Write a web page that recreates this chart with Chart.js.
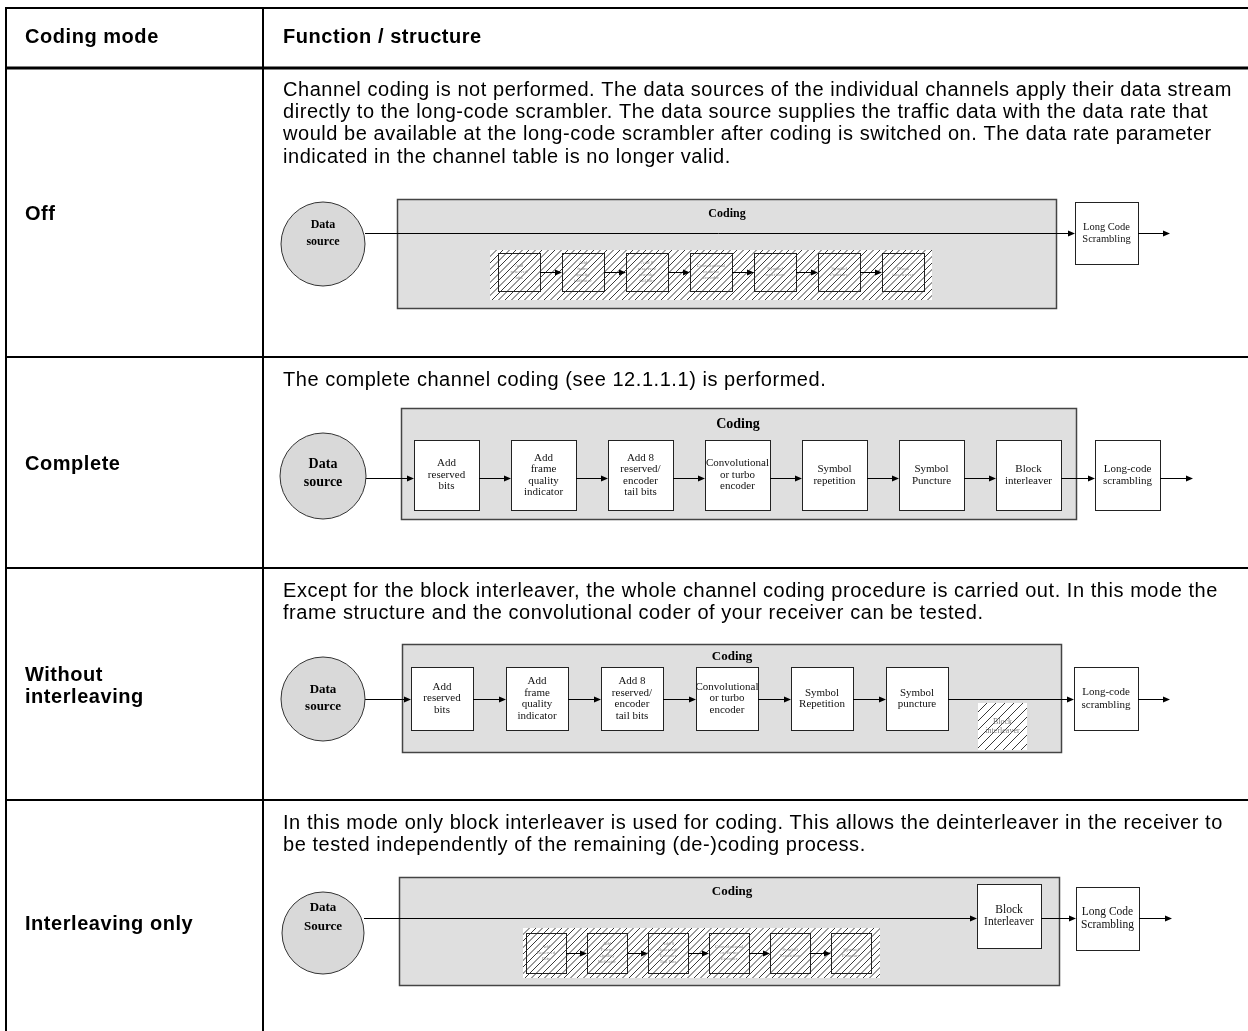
<!DOCTYPE html>
<html>
<head>
<meta charset="utf-8">
<title>Coding modes</title>
<script src="https://cdn.jsdelivr.net/npm/chart.js@4.4.1/dist/chart.umd.min.js"></script>
<style>
    html, body { margin: 0; padding: 0; background: #fff; }
    #wrap { width: 1248px; height: 1031px; }
</style>
</head>
<body>
<div id="wrap"><canvas id="myChart" width="1248" height="1031"></canvas></div>
<script>
// table content
const headers = ['Coding mode', 'Function / structure'];
const modes = [['Off'], ['Complete'], ['Without', 'interleaving'], ['Interleaving only']];
const descriptions = [
    ['Channel coding is not performed. The data sources of the individual channels apply their data stream',
     'directly to the long-code scrambler. The data source supplies the traffic data with the data rate that',
     'would be available at the long-code scrambler after coding is switched on. The data rate parameter',
     'indicated in the channel table is no longer valid.'],
    ['The complete channel coding (see 12.1.1.1) is performed.'],
    ['Except for the block interleaver, the whole channel coding procedure is carried out. In this mode the',
     'frame structure and the convolutional coder of your receiver can be tested.'],
    ['In this mode only block interleaver is used for coding. This allows the deinterleaver in the receiver to',
     'be tested independently of the remaining (de-)coding process.']
];

// diagram content
const sourceLabels = [['Data', 'source'], ['Data', 'source'], ['Data', 'source'], ['Data', 'Source']];
const codingTitle = 'Coding';
const chainA = [['Add', 'reserved', 'bits'], ['Add', 'frame', 'quality', 'indicator'], ['Add 8', 'reserved/', 'encoder', 'tail bits'],
    ['Convolutional', 'or turbo', 'encoder'], ['Symbol', 'repetition'], ['Symbol', 'Puncture'], ['Block', 'interleaver']];
const chainB = [['Add', 'reserved', 'bits'], ['Add', 'frame', 'quality', 'indicator'], ['Add 8', 'reserved/', 'encoder', 'tail bits'],
    ['Convolutional', 'or turbo', 'encoder'], ['Symbol', 'Repetition'], ['Symbol', 'puncture'], ['Block', 'interleaver']];
const chainC = [['Add', 'Reserved', 'Bits'], ['Add', 'Frame', 'Quality', 'Indicator'], ['Add 8', 'Reserved/', 'Encoder', 'Tail Bits'],
    ['Convolutional', 'or Turbo', 'Encoder'], ['Symbol', 'Repetition'], ['Symbol', 'Puncture'], ['Block', 'Interleaver']];
const chainLabels = [chainA, chainA, chainB, chainC];
const activeFlags = [
    [false, false, false, false, false, false, false],
    [true, true, true, true, true, true, true],
    [true, true, true, true, true, true, false],
    [false, false, false, false, false, false, true]
];
const scramblerLabels = [['Long Code', 'Scrambling'], ['Long-code', 'scrambling'], ['Long-code', 'scrambling'], ['Long Code', 'Scrambling']];

// layout (page coordinates)
const W = 1248, H = 1031;
const tableLines = [[8, 2], [68, 3], [357, 2], [568, 2], [800, 2]];
const tableCols = [6, 263];
const labelY = [[214], [464], [675, 697], [924]];
const textY = [90, 380, 591, 823];
const tableFont = 20;
const tableSpacing = '0.55px';
const layout = [
    { source: [323, 244, 42], srcFont: 12, srcText: [225, 242],
      coding: [397, 199, 1056, 308], title: [727, 214], titleFont: 12, mainY: 233,
      chain: { x0: 498, pitch: 64, w: 42, y1: 253, y2: 291, font: 5 }, strip: [490, 250, 932, 300],
      scrambler: [1075, 202, 1138, 264], scrFont: 10.5, outEnd: 1170 },
    { source: [323, 476, 43], srcFont: 14, srcText: [464, 482],
      coding: [401, 408, 1076, 519], title: [738, 424], titleFont: 14, mainY: 478,
      chain: { x0: 414, pitch: 97, w: 65, y1: 440, y2: 510, font: 11 }, boxFont: 11,
      scrambler: [1095, 440, 1160, 510], scrFont: 11, outEnd: 1193 },
    { source: [323, 699, 42], srcFont: 13, srcText: [690, 707],
      coding: [402, 644, 1061, 752], title: [732, 657], titleFont: 13, mainY: 699,
      chain: { x0: 411, pitch: 95, w: 62, y1: 667, y2: 730, font: 11 }, boxFont: 11,
      single: { 6: [978, 703, 1027, 750] },
      scrambler: [1074, 667, 1138, 730], scrFont: 11, outEnd: 1170 },
    { source: [323, 933, 41], srcFont: 13, srcText: [908, 927],
      coding: [399, 877, 1059, 985], title: [732, 892], titleFont: 13, mainY: 918,
      chain: { x0: 526, pitch: 61, w: 40, y1: 933, y2: 973, font: 5 }, strip: [523, 928, 880, 978],
      single: { 6: [977, 884, 1041, 948] }, boxFont: 11.5,
      scrambler: [1076, 887, 1139, 950], scrFont: 11.5, outEnd: 1172 }
];

const SANS = '"Liberation Sans", Arial, sans-serif';
const SERIF = '"Liberation Serif", "Times New Roman", serif';

// helpers that go through the chart scales
function P(chart, x, y) {
    return [chart.scales.x.getPixelForValue(x), chart.scales.y.getPixelForValue(y)];
}

function rectPx(chart, r) {
    const a = P(chart, r[0], r[1]), b = P(chart, r[2], r[3]);
    return [a[0], a[1], b[0] - a[0], b[1] - a[1]];
}

function textLines(chart, lines, x, yc, step, font, color, align, spacing) {
    const ctx = chart.ctx;
    ctx.save();
    ctx.font = font;
    ctx.fillStyle = color;
    ctx.textAlign = align || 'center';
    ctx.textBaseline = 'middle';
    if (spacing) ctx.letterSpacing = spacing;
    const y0 = yc - (lines.length - 1) * step / 2;
    lines.forEach((t, k) => {
        const p = P(chart, x, y0 + k * step);
        ctx.fillText(t, p[0], p[1]);
    });
    ctx.restore();
}

function arrow(chart, x1, x2, y) {
    const ctx = chart.ctx;
    const a = P(chart, x1, y), b = P(chart, x2, y);
    ctx.strokeStyle = '#000';
    ctx.lineWidth = 1;
    ctx.beginPath();
    ctx.moveTo(a[0], Math.round(a[1]) + 0.5);
    ctx.lineTo(b[0] - 3, Math.round(b[1]) + 0.5);
    ctx.stroke();
    ctx.fillStyle = '#000';
    ctx.beginPath();
    ctx.moveTo(b[0], Math.round(b[1]) + 0.5);
    ctx.lineTo(b[0] - 7, Math.round(b[1]) - 2.5);
    ctx.lineTo(b[0] - 7, Math.round(b[1]) + 3.5);
    ctx.closePath();
    ctx.fill();
}

function hatch(chart, r, step) {
    const ctx = chart.ctx;
    const [x, y, w, h] = rectPx(chart, r);
    ctx.save();
    ctx.beginPath();
    ctx.rect(x, y, w, h);
    ctx.clip();
    ctx.strokeStyle = '#222';
    ctx.lineWidth = 0.9;
    ctx.beginPath();
    for (let k = x - h; k < x + w; k += step) {
        ctx.moveTo(k, y + h);
        ctx.lineTo(k + h, y);
    }
    ctx.stroke();
    ctx.restore();
}

function box(chart, r, fill, stroke, lw) {
    const ctx = chart.ctx;
    const [x, y, w, h] = rectPx(chart, r);
    ctx.fillStyle = fill;
    ctx.fillRect(x, y, w, h);
    if (stroke) {
        ctx.strokeStyle = stroke;
        ctx.lineWidth = lw;
        ctx.strokeRect(Math.round(x) + 0.5, Math.round(y) + 0.5, Math.round(w), Math.round(h));
    }
}

//####################################################################### TABLE
function drawTable(chart) {
    const ctx = chart.ctx;
    ctx.fillStyle = '#000';
    tableLines.forEach(([y, w]) => {
        const a = P(chart, 5, y), b = P(chart, W, y);
        ctx.fillRect(a[0], a[1] - w / 2, b[0] - a[0], w);
    });
    tableCols.forEach(x => {
        const a = P(chart, x, 7), b = P(chart, x, H);
        ctx.fillRect(a[0] - 1, a[1], 2, b[1] - a[1]);
    });
    const bold = 'bold ' + tableFont + 'px ' + SANS;
    textLines(chart, [headers[0]], 25, 37, 22, bold, '#000', 'left', tableSpacing);
    textLines(chart, [headers[1]], 283, 37, 22, bold, '#000', 'left', tableSpacing);
    modes.forEach((m, i) => {
        const yc = (labelY[i][0] + labelY[i][labelY[i].length - 1]) / 2;
        textLines(chart, m, 25, yc, 22, bold, '#000', 'left', tableSpacing);
    });
    descriptions.forEach((d, i) => {
        const yc = textY[i] + (d.length - 1) * 22.4 / 2;
        textLines(chart, d, 283, yc, 22.4, tableFont + 'px ' + SANS, '#000', 'left', tableSpacing);
    });
}

//####################################################################### DIAGRAMS
function blockRect(L, j) {
    if (L.single && L.single[j]) return L.single[j];
    const c = L.chain;
    const x1 = c.x0 + j * c.pitch;
    return [x1, c.y1, x1 + c.w, c.y2];
}

function drawRow(chart, i) {
    const L = layout[i];
    const labels = chainLabels[i];
    const flags = activeFlags[i];

    box(chart, L.coding, '#dfdfdf', '#444', 1.5);
    textLines(chart, [codingTitle], L.title[0], L.title[1], 12, 'bold ' + L.titleFont + 'px ' + SERIF, '#000');

    // switched off blocks inside the hatched strip
    if (L.strip) {
        box(chart, L.strip, '#fff');
        const off = [];
        labels.forEach((lab, j) => {
            if (!flags[j] && !(L.single && L.single[j])) off.push(j);
        });
        off.forEach(j => box(chart, blockRect(L, j), '#fff', '#222', 1));
        hatch(chart, L.strip, 6.5);
        off.forEach((j, k) => {
            const r = blockRect(L, j);
            textLines(chart, labels[j], (r[0] + r[2]) / 2, (r[1] + r[3]) / 2, 6, L.chain.font + 'px ' + SERIF, '#888');
            if (k > 0) {
                const p = blockRect(L, off[k - 1]);
                arrow(chart, p[2], r[0], (r[1] + r[3]) / 2);
            }
        });
    }

    // switched off block without strip
    labels.forEach((lab, j) => {
        if (!flags[j] && !L.strip) {
            const r = blockRect(L, j);
            box(chart, r, '#fff');
            hatch(chart, r, 9);
            textLines(chart, lab, (r[0] + r[2]) / 2, (r[1] + r[3]) / 2, 9, '8px ' + SERIF, '#777');
        }
    });

    // signal path: source -> active blocks -> scrambler
    const nodes = [[0, 0, L.source[0] + L.source[2], 0]];
    labels.forEach((lab, j) => {
        if (flags[j]) {
            const r = blockRect(L, j);
            box(chart, r, '#fff', '#222', 1);
            textLines(chart, lab, (r[0] + r[2]) / 2, (r[1] + r[3]) / 2, 11.5, L.boxFont + 'px ' + SERIF, '#111');
            nodes.push(r);
        }
    });
    const s = L.scrambler;
    box(chart, s, '#fff', '#222', 1);
    textLines(chart, scramblerLabels[i], (s[0] + s[2]) / 2, (s[1] + s[3]) / 2, 12.5, L.scrFont + 'px ' + SERIF, '#111');
    nodes.push(s);
    for (let k = 1; k < nodes.length; k++) {
        arrow(chart, nodes[k - 1][2], nodes[k][0], L.mainY);
    }
    arrow(chart, s[2], L.outEnd, L.mainY);
}

const diagramPlugin = {
    id: 'diagram',
    beforeDatasetsDraw(chart) {
        drawTable(chart);
        for (let i = 0; i < layout.length; i++) drawRow(chart, i);
    },
    afterDatasetsDraw(chart) {
        layout.forEach((L, i) => {
            const yc = (L.srcText[0] + L.srcText[1]) / 2;
            textLines(chart, sourceLabels[i], L.source[0], yc, L.srcText[1] - L.srcText[0], 'bold ' + L.srcFont + 'px ' + SERIF, '#000');
        });
    }
};

const ctx = document.getElementById('myChart').getContext('2d');
const myChart = new Chart(ctx, {
    type: 'scatter',
    data: {
        datasets: [{
            label: 'Data source',
            data: layout.map(L => ({ x: L.source[0], y: L.source[1] })),
            pointRadius: layout.map(L => L.source[2]),
            pointHoverRadius: layout.map(L => L.source[2]),
            pointBackgroundColor: '#d9d9d9',
            pointBorderColor: '#333',
            pointBorderWidth: 1,
            clip: false
        }]
    },
    options: {
        responsive: false,
        animation: false,
        events: [],
        layout: { padding: 0, autoPadding: false },
        plugins: {
            legend: { display: false },
            tooltip: { enabled: false }
        },
        scales: {
            x: { type: 'linear', min: 0, max: W, display: false },
            y: { type: 'linear', min: 0, max: H, reverse: true, display: false }
        }
    },
    plugins: [diagramPlugin]
});
</script>
</body>
</html>
